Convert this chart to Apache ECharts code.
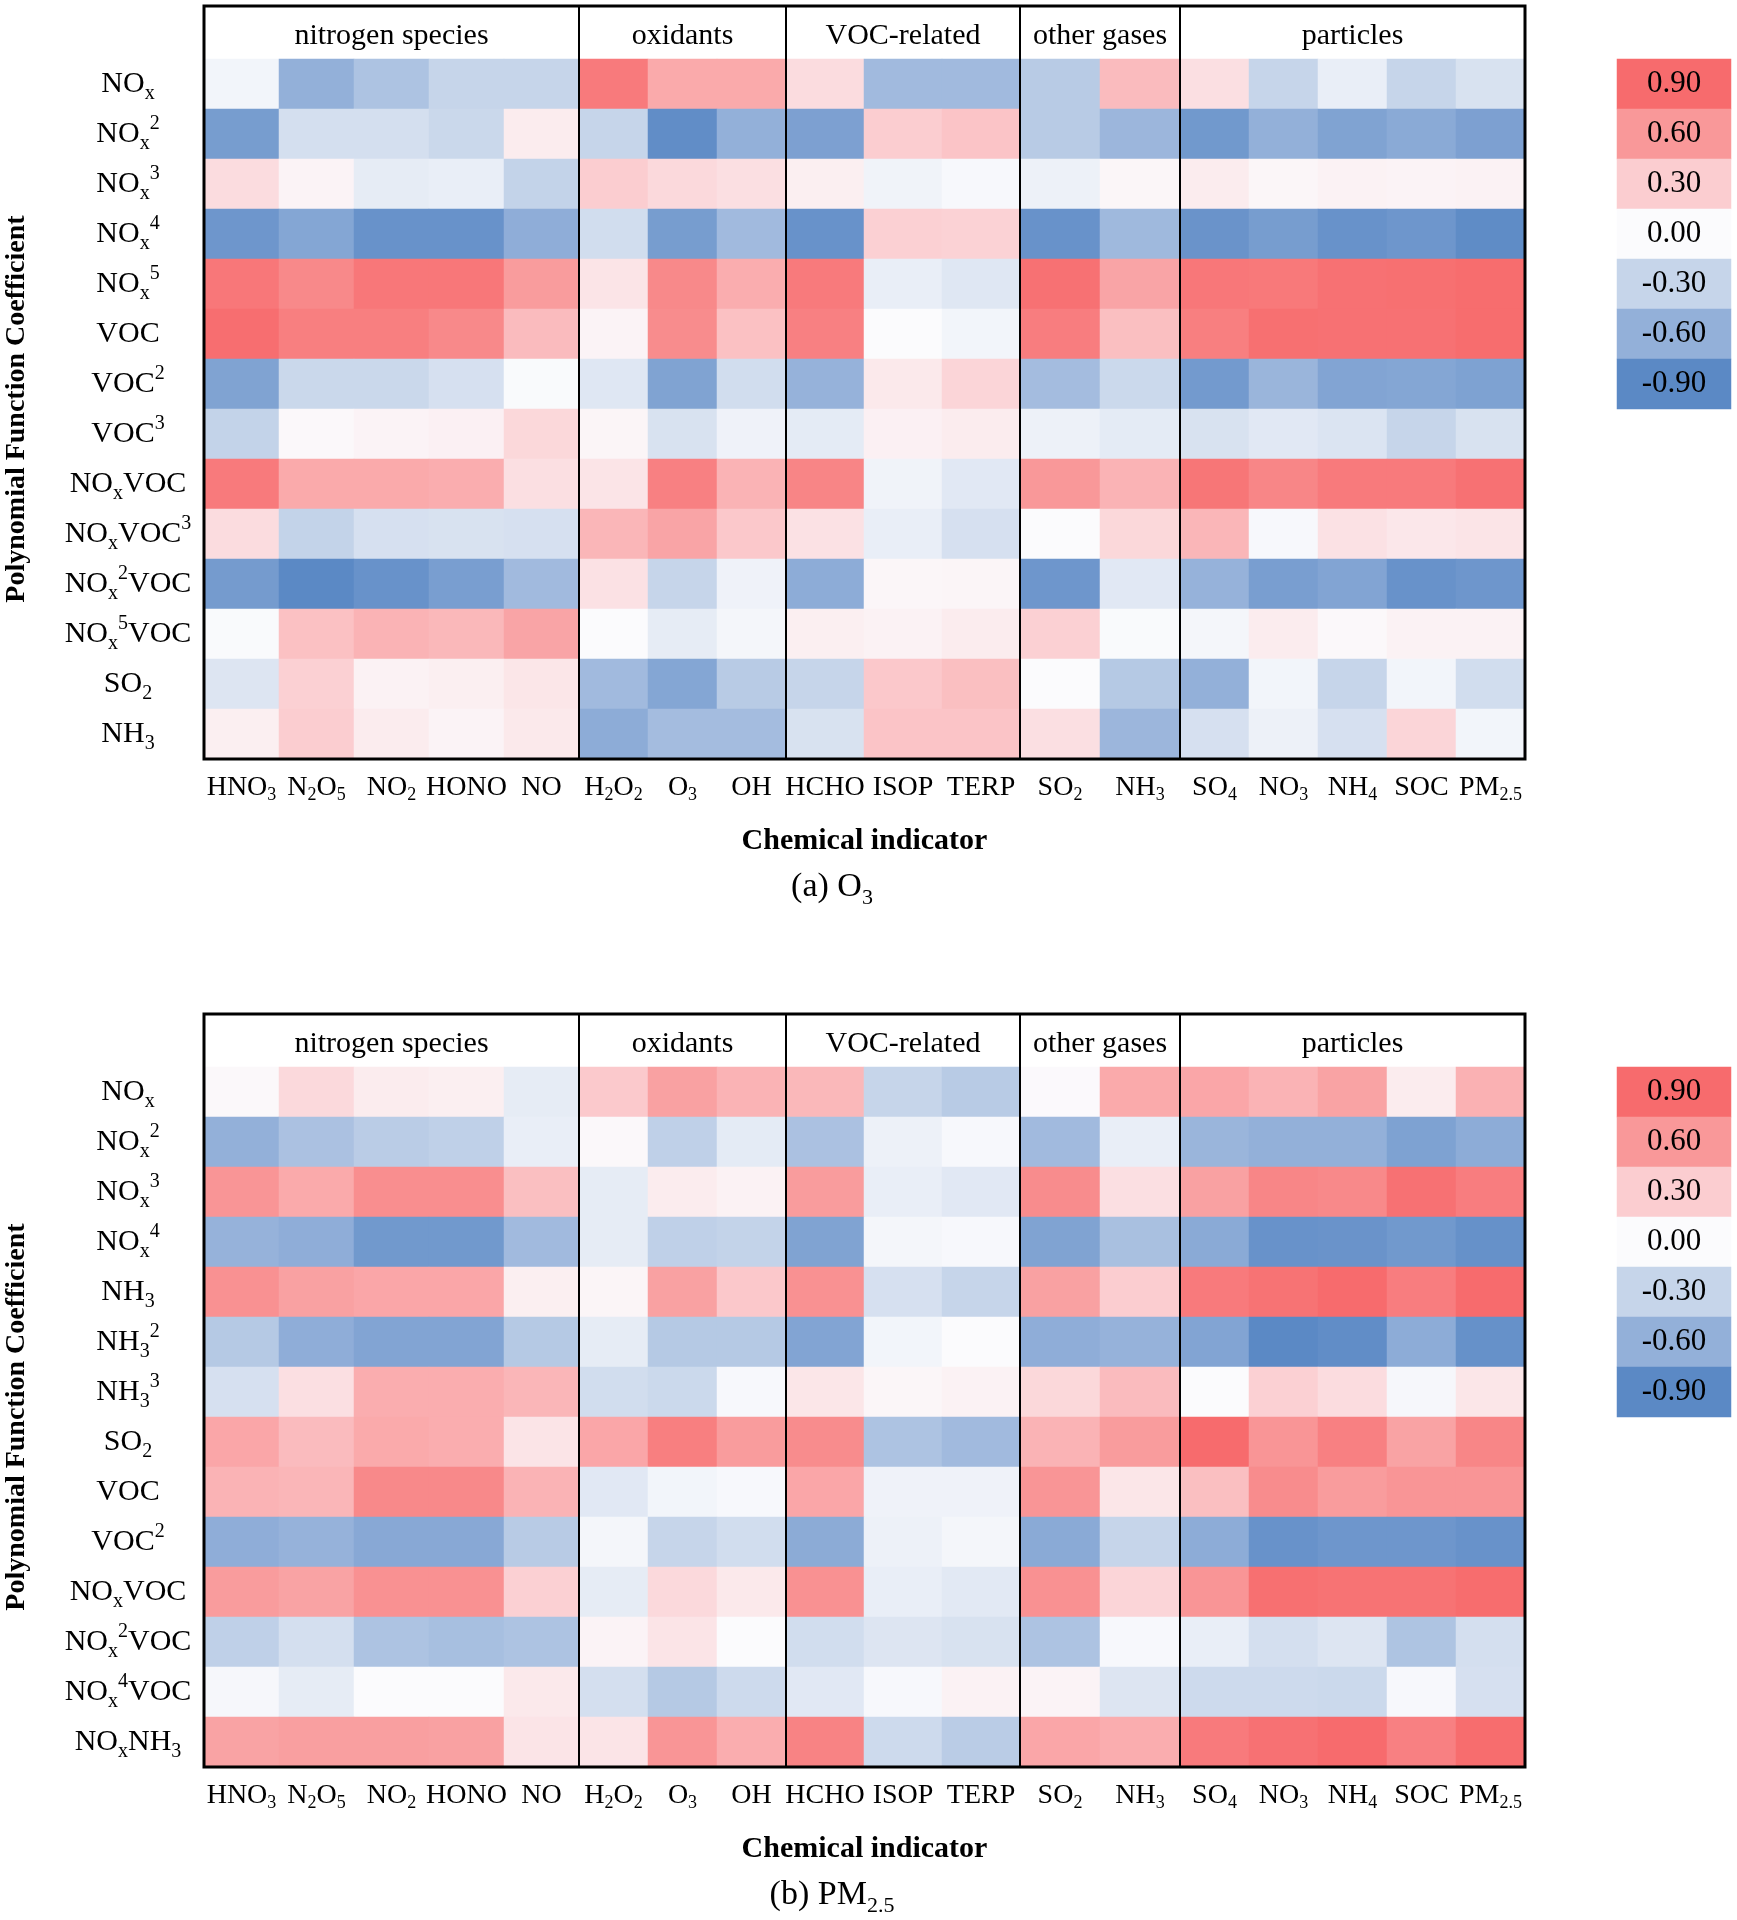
<!DOCTYPE html>
<html><head><meta charset="utf-8">
<script src="https://cdn.jsdelivr.net/npm/echarts@6/dist/echarts.min.js"></script>
<style>html,body{margin:0;padding:0;background:#fff}#c{width:1737px;height:1920px}</style>
</head><body><div id="c"></div>
<script>
// ---------------- DATA ----------------
const indicators = ['HNO_3','N_2O_5','NO_2','HONO','NO','H_2O_2','O_3','OH','HCHO','ISOP','TERP','SO_2','NH_3','SO_4','NO_3','NH_4','SOC','PM_{2.5}'];
const groupNames = ['nitrogen species','oxidants','VOC-related','other gases','particles'];
const groupSizes = [5,3,3,2,5];
const o3Terms = ['NO_x','NO_x^2','NO_x^3','NO_x^4','NO_x^5','VOC','VOC^2','VOC^3','NO_xVOC','NO_xVOC^3','NO_x^2VOC','NO_x^5VOC','SO_2','NH_3'];
const pmTerms = ['NO_x','NO_x^2','NO_x^3','NO_x^4','NH_3','NH_3^2','NH_3^3','SO_2','VOC','VOC^2','NO_xVOC','NO_x^2VOC','NO_x^4VOC','NO_xNH_3'];
const o3Values = [
  [-0.05,-0.6,-0.45,-0.3,-0.3, 0.8,0.5,0.5, 0.2,-0.52,-0.52, -0.38,0.4, 0.18,-0.3,-0.1,-0.3,-0.2],
  [-0.75,-0.22,-0.22,-0.28,0.1, -0.3,-0.87,-0.6, -0.72,0.3,0.35, -0.38,-0.55, -0.78,-0.6,-0.7,-0.65,-0.72],
  [0.2,0.05,-0.12,-0.1,-0.32, 0.3,0.22,0.18, 0.08,-0.06,-0.02, -0.08,0.03, 0.1,0.03,0.06,0.05,0.06],
  [-0.8,-0.68,-0.83,-0.83,-0.62, -0.24,-0.75,-0.52, -0.83,0.28,0.27, -0.83,-0.53, -0.82,-0.75,-0.83,-0.8,-0.88],
  [0.82,0.7,0.82,0.82,0.58, 0.15,0.7,0.48, 0.8,-0.1,-0.16, 0.86,0.53, 0.82,0.81,0.86,0.87,0.89],
  [0.88,0.77,0.77,0.7,0.4, 0.05,0.68,0.37, 0.76,0,-0.05, 0.78,0.38, 0.77,0.87,0.86,0.86,0.89],
  [-0.7,-0.28,-0.28,-0.21,-0.01, -0.16,-0.7,-0.24, -0.58,0.12,0.25, -0.5,-0.27, -0.77,-0.56,-0.69,-0.68,-0.71],
  [-0.32,0.02,0.05,0.07,0.23, 0.04,-0.2,-0.07, -0.13,0.07,0.1, -0.08,-0.13, -0.2,-0.15,-0.18,-0.3,-0.2],
  [0.8,0.5,0.5,0.48,0.18, 0.15,0.76,0.45, 0.73,-0.06,-0.15, 0.6,0.45, 0.83,0.72,0.8,0.8,0.86],
  [0.2,-0.32,-0.21,-0.2,-0.21, 0.43,0.53,0.33, 0.17,-0.1,-0.21, 0,0.23, 0.43,-0.02,0.17,0.13,0.15],
  [-0.76,-0.9,-0.83,-0.74,-0.52, 0.17,-0.3,-0.07, -0.63,0.03,0.04, -0.8,-0.15, -0.58,-0.74,-0.69,-0.83,-0.8],
  [-0.01,0.37,0.45,0.42,0.53, 0,-0.12,-0.04, 0.08,0.06,0.1, 0.28,-0.01, -0.04,0.1,0.02,0.06,0.06],
  [-0.17,0.28,0.06,0.08,0.14, -0.52,-0.68,-0.38, -0.3,0.33,0.38, 0,-0.4, -0.6,-0.05,-0.3,-0.05,-0.24],
  [0.08,0.3,0.1,0.05,0.12, -0.63,-0.5,-0.5, -0.2,0.35,0.35, 0.18,-0.55, -0.21,-0.08,-0.21,0.25,-0.05]
];
const pmValues = [
  [0.02,0.22,0.1,0.08,-0.12, 0.32,0.55,0.45, 0.42,-0.3,-0.38, 0.01,0.5, 0.52,0.45,0.54,0.1,0.46],
  [-0.6,-0.46,-0.37,-0.34,-0.1, 0.02,-0.34,-0.13, -0.46,-0.08,-0.02, -0.52,-0.1, -0.56,-0.6,-0.6,-0.71,-0.63],
  [0.62,0.5,0.67,0.67,0.38, -0.12,0.1,0.06, 0.58,-0.1,-0.15, 0.68,0.18, 0.55,0.72,0.7,0.86,0.78],
  [-0.58,-0.62,-0.78,-0.78,-0.52, -0.12,-0.34,-0.32, -0.7,-0.04,-0.02, -0.7,-0.47, -0.65,-0.83,-0.82,-0.78,-0.84],
  [0.65,0.55,0.52,0.52,0.08, 0.04,0.55,0.33, 0.65,-0.21,-0.3, 0.55,0.3, 0.8,0.85,0.9,0.78,0.9],
  [-0.4,-0.62,-0.69,-0.69,-0.4, -0.12,-0.4,-0.4, -0.69,-0.05,0, -0.62,-0.58, -0.69,-0.9,-0.87,-0.63,-0.84],
  [-0.21,0.18,0.48,0.48,0.43, -0.24,-0.27,-0.02, 0.14,0.03,0.06, 0.23,0.4, 0,0.28,0.2,-0.03,0.14],
  [0.52,0.4,0.5,0.48,0.15, 0.52,0.77,0.58, 0.68,-0.45,-0.52, 0.45,0.58, 0.9,0.62,0.76,0.54,0.72],
  [0.45,0.43,0.7,0.7,0.45, -0.15,-0.05,-0.02, 0.52,-0.07,-0.07, 0.62,0.14, 0.38,0.68,0.58,0.62,0.62],
  [-0.62,-0.58,-0.66,-0.66,-0.38, -0.04,-0.3,-0.24, -0.64,-0.08,-0.04, -0.65,-0.3, -0.63,-0.83,-0.8,-0.8,-0.83],
  [0.58,0.54,0.65,0.65,0.28, -0.12,0.22,0.12, 0.65,-0.1,-0.14, 0.65,0.25, 0.62,0.87,0.85,0.85,0.89],
  [-0.34,-0.22,-0.45,-0.48,-0.45, 0.05,0.15,0, -0.24,-0.17,-0.2, -0.45,-0.02, -0.1,-0.22,-0.17,-0.44,-0.22],
  [-0.03,-0.12,0,0,0.12, -0.22,-0.4,-0.26, -0.15,-0.02,0.06, 0.05,-0.17, -0.26,-0.26,-0.27,-0.02,-0.21],
  [0.54,0.56,0.56,0.55,0.15, 0.15,0.62,0.48, 0.74,-0.26,-0.37, 0.52,0.48, 0.8,0.86,0.9,0.76,0.89]
];
const legendTicks = [0.9,0.6,0.3,0,-0.3,-0.6,-0.9];
const panelTitles = ['(a) O_3','(b) PM_{2.5}'];
const xAxisTitle = 'Chemical indicator';
const yAxisTitle = 'Polynomial Function Coefficient';

// ---------------- LAYOUT / STYLE ----------------
const FONT = "'Liberation Serif','Times New Roman',serif";
const colors = ['#5B89C5','#93B0D9','#C6D5EA','#FBFBFD','#FBCDD0','#F99899','#F76B6D'];
const panelTop = [6, 1014];
const HEADER = 53, PLOT_H = 700;
const edges = [204, 579, 786, 1020, 1180, 1525];
const CB_LEFT = 1617, CB_W = 114, CB_H = 350;

function rich(s){
  return s.replace(/_\{([^}]*)\}|_(.)/g,(m,a,b)=>'{sub|'+(a||b)+'}')
          .replace(/\^\{([^}]*)\}|\^(.)/g,(m,a,b)=>'{sup|'+(a||b)+'}');
}
function richStyles(main, small){
  return {
    sub:{fontSize:small, lineHeight:small, verticalAlign:'bottom', fontFamily:FONT, color:'#000'},
    sup:{fontSize:small, lineHeight:small, verticalAlign:'top', fontFamily:FONT, color:'#000'}
  };
}

const grids=[], xAxes=[], yAxes=[], series=[], graphics=[];
const panels = [{terms:o3Terms, values:o3Values},{terms:pmTerms, values:pmValues}];

panels.forEach((pn, p) => {
  const top = panelTop[p];
  let colStart = 0;
  groupSizes.forEach((n, g) => {
    const gi = grids.length;
    grids.push({left:edges[g], width:edges[g+1]-edges[g], top:top+HEADER, height:PLOT_H, containLabel:false});
    const cols = indicators.slice(colStart, colStart+n);
    xAxes.push({
      type:'category', gridIndex:gi, data:cols, position:'bottom',
      axisLine:{show:false}, axisTick:{show:false}, splitLine:{show:false},
      axisLabel:{interval:0, margin:13, color:'#000', fontFamily:FONT, fontSize:28, lineHeight:32,
        formatter:v=>rich(v), rich:richStyles(28,18)}
    });
    yAxes.push({
      type:'category', gridIndex:gi, data:pn.terms, inverse:true,
      axisLine:{show:false}, axisTick:{show:false}, splitLine:{show:false},
      axisLabel:{show:g===0, interval:0, margin:76, align:'center', color:'#000', fontFamily:FONT, fontSize:30, lineHeight:40,
        formatter:v=>rich(v), rich:richStyles(30,20)}
    });
    const data=[];
    pn.values.forEach((row, r) => {
      for (let c=0;c<n;c++) data.push([c, r, row[colStart+c]]);
    });
    series.push({type:'heatmap', xAxisIndex:gi, yAxisIndex:gi, data, emphasis:{disabled:true}, itemStyle:{borderWidth:0}});
    graphics.push({type:'text', x:(edges[g]+edges[g+1])/2, y:top+30, z:100,
      style:{text:groupNames[g], align:'center', verticalAlign:'middle', font:'30px '+FONT, fill:'#000'}});
    colStart += n;
  });
  // colorbar
  const ci = grids.length;
  grids.push({left:CB_LEFT, width:CB_W, top:top+HEADER, height:CB_H});
  xAxes.push({type:'category', gridIndex:ci, data:[''], show:false});
  yAxes.push({type:'category', gridIndex:ci, data:legendTicks.map(v=>v.toFixed(2)), inverse:true, show:false});
  series.push({type:'heatmap', xAxisIndex:ci, yAxisIndex:ci, emphasis:{disabled:true},
    data:legendTicks.map((v,i)=>[0,i,v]),
    label:{show:true, color:'#000', fontFamily:FONT, fontSize:31, formatter:o=>o.value[2].toFixed(2)}});
  // frame
  graphics.push({type:'rect', z:100, shape:{x:edges[0], y:top, width:edges[5]-edges[0], height:HEADER+PLOT_H},
    style:{fill:'none', stroke:'#000', lineWidth:3}});
  for (let g=1; g<edges.length-1; g++) {
    graphics.push({type:'line', z:100, shape:{x1:edges[g], y1:top, x2:edges[g], y2:top+HEADER+PLOT_H},
      style:{stroke:'#000', lineWidth:2}});
  }
  graphics.push({type:'text', z:100, x:(edges[0]+edges[5])/2, y:top+835,
    style:{text:xAxisTitle, align:'center', verticalAlign:'middle', font:'bold 30px '+FONT, fill:'#000'}});
  graphics.push({type:'text', z:100, x:832, y:top+881,
    style:{text:rich(panelTitles[p]), align:'center', verticalAlign:'middle', font:'34px '+FONT, fill:'#000',
      lineHeight:44, rich:richStyles(34,22)}});
  graphics.push({type:'text', z:100, x:17, y:top+HEADER+PLOT_H/2, rotation:Math.PI/2,
    style:{text:yAxisTitle, align:'center', verticalAlign:'middle', font:'bold 28px '+FONT, fill:'#000'}});
});

const chart = echarts.init(document.getElementById('c'), null, {renderer:'canvas'});
chart.setOption({
  animation:false,
  backgroundColor:'#fff',
  grid:grids, xAxis:xAxes, yAxis:yAxes,
  visualMap:{type:'continuous', show:false, min:-0.9, max:0.9, seriesIndex:series.map((s,i)=>i),
    inRange:{color:colors}},
  series,
  graphic:{elements:graphics}
});
</script></body></html>
